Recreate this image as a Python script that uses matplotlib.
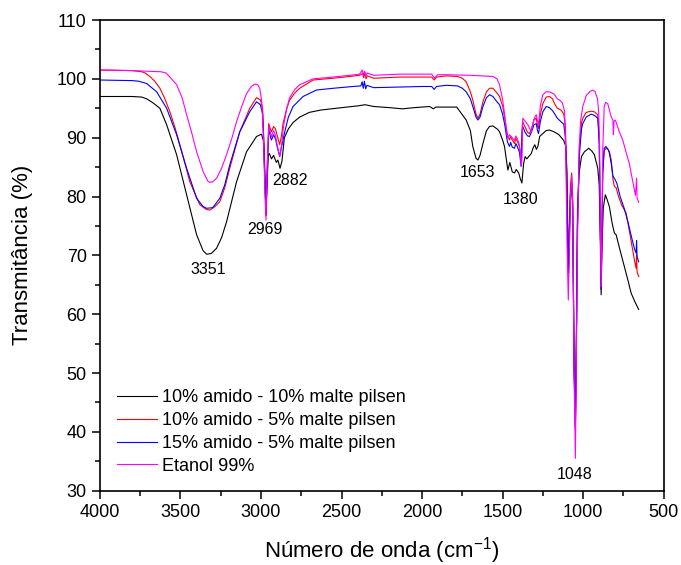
import numpy as np
import matplotlib
matplotlib.use("Agg")
import matplotlib.pyplot as plt
from matplotlib.ticker import MultipleLocator

plt.rcParams["font.family"] = ["Liberation Sans", "DejaVu Sans"]
plt.rcParams["mathtext.fontset"] = "custom"
plt.rcParams["mathtext.rm"] = "Liberation Sans"

# 10% amido - 10% malte pilsen
wn_black = [4000, 3800, 3740, 3710, 3670, 3628, 3586, 3524, 3462, 3400, 3360, 3338,
            3310, 3276, 3245, 3214, 3152, 3090, 3028, 2997, 2985, 2975, 2969, 2963,
            2955, 2948, 2935, 2922, 2905, 2895, 2882, 2870, 2855, 2830, 2800, 2760,
            2700, 2628, 2500, 2400, 2354, 2300, 2200, 2122, 2050, 1953, 1930, 1915,
            1850, 1785, 1726, 1700, 1685, 1665, 1653, 1640, 1622, 1600, 1581, 1560,
            1530, 1519, 1500, 1488, 1470, 1467, 1455, 1440, 1426, 1415, 1400, 1390,
            1380, 1370, 1360, 1350, 1343, 1322, 1310, 1300, 1290, 1280, 1270, 1230,
            1210, 1180, 1150, 1120, 1107, 1100, 1095, 1090, 1085, 1080, 1072, 1065,
            1056, 1048, 1042, 1035, 1025, 1010, 992, 965, 945, 930, 909, 900, 893,
            888, 884, 875, 862, 850, 837, 820, 806, 795, 770, 744, 720, 702, 680, 655]
t_black = [97.0, 97.0, 96.9, 96.6, 95.9, 95.0, 92.2, 87.1, 80.3, 73.5, 70.8, 70.2,
           70.3, 71.2, 73.0, 75.7, 82.5, 87.6, 90.2, 90.6, 89.5, 82.0, 77.0, 82.0,
           87.0, 87.3, 86.4, 87.0, 85.8, 86.2, 84.8, 86.0, 90.0, 91.5, 92.6, 93.5,
           94.3, 94.7, 95.1, 95.4, 95.6, 95.3, 95.1, 94.9, 95.1, 95.3, 94.9, 95.2,
           95.2, 95.2, 93.0, 91.2, 88.5, 86.5, 86.2, 87.0, 89.0, 91.2, 91.9, 92.0,
           91.4, 91.0, 89.6, 88.5, 85.0, 84.5, 85.8, 84.2, 84.0, 84.6, 84.0, 83.0,
           82.3, 85.5, 86.8, 86.4, 86.6, 87.3, 88.3, 88.8, 88.0, 88.6, 90.2, 91.2,
           91.3, 91.0, 90.5, 89.5, 88.5, 84.0, 72.0, 67.0, 72.0, 80.0, 82.5, 78.0,
           50.0, 41.0, 55.0, 78.0, 84.0, 86.8, 87.6, 88.2, 87.7, 87.1, 84.8, 82.0, 72.0,
           63.3, 70.0, 78.0, 80.3, 79.4, 78.3, 75.5, 73.8, 73.5, 70.8, 68.1, 65.6, 63.6, 62.2, 60.8]

# 10% amido - 5% malte pilsen
wn_red = [4000, 3800, 3740, 3720, 3690, 3660, 3628, 3600, 3566, 3535, 3504, 3442,
          3380, 3340, 3318, 3290, 3256, 3225, 3194, 3132, 3070, 3028, 3004, 2990,
          2980, 2969, 2960, 2952, 2940, 2935, 2922, 2910, 2900, 2884, 2872, 2863,
          2840, 2822, 2790, 2760, 2677, 2553, 2450, 2388, 2370, 2362, 2355, 2348,
          2340, 2300, 2139, 2000, 1940, 1925, 1910, 1850, 1780, 1750, 1726, 1700,
          1685, 1665, 1653, 1640, 1622, 1600, 1581, 1560, 1535, 1519, 1500, 1488,
          1470, 1457, 1450, 1440, 1426, 1418, 1410, 1395, 1385, 1378, 1375, 1360,
          1345, 1333, 1320, 1305, 1291, 1283, 1277, 1265, 1250, 1229, 1209, 1190,
          1178, 1160, 1137, 1120, 1110, 1100, 1092, 1086, 1078, 1071, 1065, 1056,
          1048, 1042, 1035, 1023, 1010, 1002, 981, 950, 930, 909, 900, 893, 888,
          884, 878, 869, 858, 845, 837, 825, 815, 806, 795, 780, 760, 733, 715, 692,
          680, 671, 668, 665, 655]
t_red = [101.5, 101.4, 101.2, 101.0, 100.4, 99.6, 98.4, 96.8, 94.4, 91.8, 88.8, 82.5,
         78.6, 77.8, 77.7, 78.2, 79.1, 81.5, 84.8, 91.0, 95.0, 96.8, 96.4, 95.0,
         88.0, 76.8, 86.0, 92.4, 91.3, 91.0, 91.9, 91.5, 90.4, 88.8, 90.5, 92.4,
         95.0, 96.4, 97.6, 98.4, 99.8, 100.1, 100.4, 100.6, 100.9, 100.2, 101.1, 100.0,
         100.5, 100.1, 100.3, 100.3, 100.3, 99.8, 100.3, 100.5, 100.4, 100.1, 99.5, 97.8,
         96.4, 94.0, 93.3, 94.0, 96.1, 97.8, 98.4, 98.4, 97.6, 97.0, 95.4, 93.6,
         90.5, 89.6, 90.2, 89.6, 89.0, 89.9, 89.5, 88.5, 86.2, 92.0, 92.7, 91.8,
         90.9, 90.7, 91.6, 93.0, 93.3, 92.0, 91.6, 94.0, 95.8, 96.9, 97.0, 96.6,
         95.8, 95.0, 94.7, 94.0, 92.0, 82.0, 67.0, 75.0, 82.0, 84.0, 80.0, 52.0,
         40.6, 55.0, 75.0, 88.5, 92.5, 93.3, 94.3, 94.5, 94.4, 93.9, 90.0, 75.0, 64.2,
         72.0, 84.0, 87.8, 88.2, 88.0, 87.6, 86.2, 83.0, 81.7, 81.5, 80.0, 78.5, 77.2, 74.5, 70.9,
         69.0, 67.8, 70.1, 67.2, 66.4]

# 15% amido - 5% malte pilsen
wn_blue = [4000, 3800, 3760, 3710, 3648, 3586, 3524, 3462, 3400, 3360, 3338, 3300,
           3256, 3225, 3194, 3132, 3070, 3028, 3004, 2990, 2980, 2969, 2960, 2952,
           2940, 2935, 2922, 2910, 2900, 2884, 2872, 2855, 2830, 2801, 2739, 2656,
           2550, 2429, 2380, 2372, 2365, 2358, 2350, 2342, 2300, 2139, 2000, 1940,
           1925, 1910, 1850, 1780, 1750, 1726, 1700, 1685, 1665, 1653, 1640, 1622,
           1600, 1581, 1560, 1535, 1519, 1500, 1488, 1470, 1457, 1450, 1440, 1426,
           1418, 1410, 1395, 1385, 1378, 1375, 1360, 1345, 1333, 1320, 1305, 1291,
           1283, 1277, 1265, 1250, 1229, 1209, 1190, 1178, 1160, 1137, 1120, 1110,
           1100, 1092, 1086, 1078, 1071, 1065, 1056, 1048, 1042, 1035, 1023, 1010,
           1002, 981, 950, 930, 909, 900, 893, 888, 884, 878, 869, 858, 845, 837,
           825, 815, 800, 790, 770, 745, 720, 695, 680, 671, 668, 665, 655]
t_blue = [99.8, 99.7, 99.6, 99.2, 97.8, 95.0, 90.5, 84.8, 79.7, 78.3, 78.0, 78.1,
          79.7, 82.0, 85.4, 91.0, 94.4, 96.1, 95.6, 94.0, 87.0, 76.8, 85.0, 91.6,
          90.0, 89.6, 90.5, 89.8, 88.5, 86.8, 88.5, 90.7, 93.5, 95.3, 97.0, 98.1,
          98.4, 98.7, 98.8, 99.5, 98.4, 99.6, 98.3, 98.9, 98.5, 98.6, 98.7, 98.7,
          98.2, 98.7, 98.9, 98.8, 98.4, 97.8, 96.6, 95.3, 93.5, 93.0, 93.5, 95.3,
          96.8, 97.3, 97.0, 96.1, 95.6, 94.0, 92.4, 89.3, 88.5, 89.2, 88.4, 88.2,
          89.0, 88.6, 87.5, 85.1, 91.3, 91.9, 90.9, 90.3, 90.2, 91.0, 92.2, 92.4,
          91.2, 90.7, 92.8, 94.4, 95.3, 95.1, 94.6, 94.1, 93.3, 92.7, 92.3, 90.0,
          80.0, 67.0, 74.0, 80.0, 82.3, 79.0, 52.0, 40.6, 55.0, 75.0, 87.0, 91.5,
          92.4, 93.5, 94.0, 93.8, 93.3, 89.0, 74.0, 64.2, 72.0, 84.0, 88.2, 88.5, 88.0, 87.4,
          85.5, 83.5, 82.8, 82.2, 80.0, 78.0, 75.5, 72.6, 71.0, 70.4, 72.5, 69.8, 68.9]

# Etanol 99%
wn_mag = [4000, 3800, 3620, 3590, 3566, 3524, 3490, 3462, 3430, 3400, 3359, 3330,
          3318, 3300, 3276, 3245, 3214, 3180, 3152, 3120, 3090, 3060, 3039, 3020,
          3008, 2995, 2985, 2975, 2969, 2962, 2952, 2940, 2935, 2922, 2910, 2900,
          2884, 2872, 2860, 2840, 2822, 2790, 2760, 2677, 2553, 2450, 2388, 2372,
          2365, 2358, 2350, 2342, 2300, 2139, 2036, 1940, 1922, 1905, 1850, 1700,
          1622, 1560, 1535, 1519, 1500, 1488, 1475, 1467, 1457, 1450, 1440, 1426,
          1418, 1410, 1398, 1390, 1385, 1380, 1376, 1375, 1360, 1343, 1322, 1305,
          1291, 1283, 1277, 1265, 1250, 1230, 1209, 1180, 1160, 1147, 1130, 1115,
          1108, 1100, 1092, 1086, 1078, 1071, 1065, 1056, 1048, 1042, 1035, 1025,
          1015, 1002, 980, 955, 940, 925, 910, 903, 897, 893, 888, 884, 878, 869,
          860, 847, 835, 825, 815, 812, 808, 800, 775, 754, 733, 713, 695, 682, 675,
          668, 665, 655]
t_mag = [101.5, 101.4, 101.2, 101.0, 100.3, 99.0, 96.8, 93.9, 90.8, 87.6, 84.2, 82.6,
         82.4, 82.5, 83.1, 84.8, 87.1, 90.0, 92.7, 95.3, 97.5, 98.7, 99.1, 99.0,
         98.4, 96.0, 90.0, 80.0, 76.0, 85.0, 92.0, 90.6, 90.2, 91.2, 90.4, 88.8,
         86.8, 88.8, 92.0, 95.0, 96.8, 98.2, 99.0, 100.0, 100.3, 100.6, 100.8, 101.5,
         100.6, 101.3, 100.4, 101.0, 100.6, 100.8, 100.8, 100.8, 100.1, 100.7, 100.7, 100.6,
         100.5, 100.4, 100.0, 99.0, 96.5, 94.1, 91.0, 89.9, 90.5, 90.3, 90.0, 89.5,
         90.3, 89.9, 89.0, 87.5, 85.3, 86.0, 92.5, 93.3, 92.8, 92.2, 91.0, 93.2,
         93.9, 92.8, 92.2, 95.5, 97.3, 97.8, 97.8, 97.4, 96.6, 96.4, 96.0, 94.5,
         88.0, 72.0, 62.4, 70.0, 80.0, 83.5, 79.0, 50.0, 35.5, 52.0, 72.0, 88.0,
         93.0, 95.3, 97.2, 97.9, 98.1, 97.8, 96.5, 94.1, 88.0, 75.0, 64.7, 72.0, 88.0, 95.3,
         96.0, 95.8, 94.5, 93.5, 93.0, 90.5, 92.8, 93.0, 91.0, 89.6, 87.5, 85.6, 83.0, 81.1, 80.2,
         83.1, 79.8, 79.0]

labels = ["10% amido - 10% malte pilsen", "10% amido - 5% malte pilsen",
          "15% amido - 5% malte pilsen", "Etanol 99%"]
colors = ["#000000", "#ff0000", "#0000ff", "#ff00ff"]

peak_labels = ["3351", "2969", "2882", "1653", "1380", "1048"]
peak_x = [3328, 2977, 2821, 1653, 1390, 1054]
peak_y = [67.6, 74.4, 82.7, 84.1, 79.5, 32.8]

fig = plt.figure(figsize=(6.81, 5.65), dpi=100)
ax = fig.add_axes([0.1468, 0.1315, 0.8277, 0.8331])

series = [(wn_black, t_black), (wn_red, t_red), (wn_blue, t_blue), (wn_mag, t_mag)]
for (xx, yy), lab, col in zip(series, labels, colors):
    ax.plot(xx, yy, color=col, lw=0.8, label=lab)

for lab, xx, yy in zip(peak_labels, peak_x, peak_y):
    ax.text(xx, yy, lab, ha="center", va="center", fontsize=11.5)

ax.set_xlim(4000, 500)
ax.set_ylim(30, 110)
ax.xaxis.set_major_locator(MultipleLocator(500))
ax.xaxis.set_minor_locator(MultipleLocator(250))
ax.yaxis.set_major_locator(MultipleLocator(10))
ax.yaxis.set_minor_locator(MultipleLocator(5))
ax.tick_params(which="both", direction="out", top=False, right=False, width=1.1,
               labelsize=13)
ax.tick_params(which="major", length=6)
ax.tick_params(which="minor", length=3.5)
for sp in ax.spines.values():
    sp.set_linewidth(1.2)

ax.set_xlabel("Número de onda (cm$^{\\mathregular{-1}}$)", fontsize=16, labelpad=10)
ax.set_ylabel("Transmitância (%)", fontsize=16, labelpad=17)

ax.legend(loc="lower left", bbox_to_anchor=(0.03, 0.034), frameon=False,
          fontsize=13, handlelength=2.2, handletextpad=0.3, labelspacing=0.32,
          borderpad=0, borderaxespad=0)

fig.savefig("out.png", dpi=100)
